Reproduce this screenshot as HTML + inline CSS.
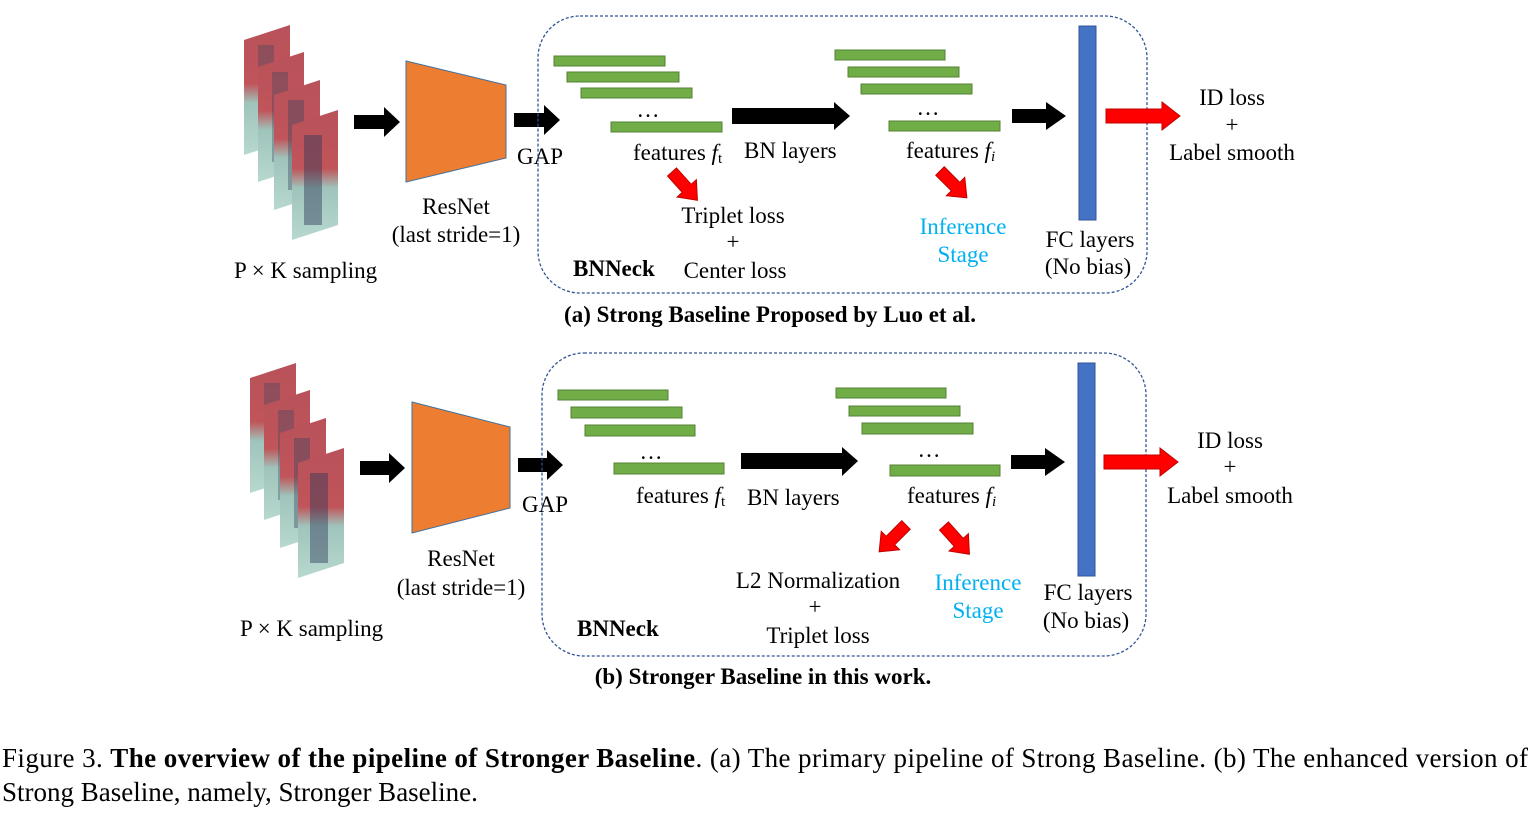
<!DOCTYPE html>
<html><head><meta charset="utf-8"><style>
body{margin:0;background:#fff;}
svg text{font-family:"Liberation Serif",serif;font-size:23px;fill:#000;}
.c{text-anchor:middle}
.blue{fill:#00B0F0}
.b{font-weight:bold}
</style></head><body>
<svg width="1536" height="813" viewBox="0 0 1536 813" xmlns="http://www.w3.org/2000/svg">
<defs>
<linearGradient id="im" x1="0" y1="0" x2="0" y2="1">
<stop offset="0" stop-color="#b8525a"/><stop offset="0.45" stop-color="#c0545a"/><stop offset="0.6" stop-color="#9fc4bb"/><stop offset="1" stop-color="#b7d8cf"/>
</linearGradient>
<g id="stack">
<polygon points="0,15 46,0 46,115 0,130" fill="url(#im)"/>
<rect x="14" y="20" width="16" height="90" fill="#3a4560" opacity="0.35"/>
<polygon points="14,42 60,27 60,142 14,157" fill="url(#im)"/>
<rect x="28" y="47" width="16" height="90" fill="#3a4560" opacity="0.35"/>
<polygon points="30,70 76,55 76,170 30,185" fill="url(#im)"/>
<rect x="44" y="75" width="16" height="90" fill="#3a4560" opacity="0.4"/>
<polygon points="48,100 94,85 94,200 48,215" fill="url(#im)"/>
<rect x="60" y="110" width="18" height="90" fill="#2f3a58" opacity="0.45"/>
</g>
<g id="red"><polygon points="0,-6 22,-6 22,-13 38,0 22,13 22,6 0,6" fill="#FF0000" stroke="#C00000" stroke-width="1"/></g>
</defs>

<!-- Panel a -->
<use href="#stack" x="244" y="25"/>
<polygon points="354,115 384,115 384,107 400,122 384,137 384,129 354,129" fill="#000"/>
<polygon points="406,61 506,85 506,158 406,182" fill="#ED7D31" stroke="#41719C" stroke-width="1"/>
<text class="c" x="456" y="214">ResNet</text>
<text class="c" x="456" y="242">(last stride=1)</text>
<text x="234" y="278">P × K sampling</text>
<polygon points="514,113 544,113 544,105 560,120 544,135 544,127 514,127" fill="#000"/>
<text x="517" y="164">GAP</text>
<rect x="538" y="16" width="609" height="277" rx="42" fill="none" stroke="#2F5597" stroke-width="1.3" stroke-dasharray="3,2"/>
<g fill="#70AD47" stroke="#538135" stroke-width="1">
<rect x="554" y="56" width="111" height="10"/><rect x="567" y="72" width="112" height="10"/><rect x="581" y="88" width="111" height="10"/><rect x="611" y="122" width="111" height="10"/>
<rect x="835" y="50" width="110" height="10"/><rect x="848" y="67" width="111" height="10"/><rect x="861" y="84" width="111" height="10"/><rect x="889" y="121" width="111" height="10"/>
</g>
<text class="c" x="648" y="117">…</text>
<text class="c" x="928" y="115">…</text>
<text x="633" y="160">features <tspan font-style="italic">f</tspan><tspan font-size="15" dy="3">t</tspan></text>
<polygon points="732,108 834,108 834,102 850,116 834,130 834,124 732,124" fill="#000"/>
<text x="744" y="158">BN layers</text>
<text x="906" y="158">features <tspan font-style="italic">f</tspan><tspan font-size="15" dy="3" font-style="italic">i</tspan></text>
<use href="#red" transform="translate(672,172) rotate(48)"/>
<use href="#red" transform="translate(940,171) rotate(45)"/>
<text class="c" x="733" y="223">Triplet loss</text>
<text class="c" x="733" y="249">+</text>
<text class="c" x="735" y="278">Center loss</text>
<text class="b" x="573" y="276">BNNeck</text>
<text class="c blue" x="963" y="234">Inference</text>
<text class="c blue" x="963" y="262">Stage</text>
<polygon points="1012,109 1046,109 1046,102 1066,116 1046,130 1046,123 1012,123" fill="#000"/>
<rect x="1079" y="26" width="17" height="194" fill="#4472C4" stroke="#2F5597" stroke-width="1"/>
<text class="c" x="1090" y="247">FC layers</text>
<text class="c" x="1088" y="274">(No bias)</text>
<polygon points="1106,109 1162,109 1162,102 1180,116 1162,130 1162,123 1106,123" fill="#FF0000" stroke="#C00000" stroke-width="1"/>
<text class="c" x="1232" y="105">ID loss</text>
<text class="c" x="1232" y="132">+</text>
<text class="c" x="1232" y="160">Label smooth</text>
<text class="c b" x="770" y="322">(a) Strong Baseline Proposed by Luo et al.</text>

<!-- Panel b -->
<use href="#stack" x="250" y="363"/>
<polygon points="360,461 389,461 389,453 405,468 389,483 389,475 360,475" fill="#000"/>
<polygon points="412,402 510,427 510,508 412,533" fill="#ED7D31" stroke="#41719C" stroke-width="1"/>
<text class="c" x="461" y="566">ResNet</text>
<text class="c" x="461" y="595">(last stride=1)</text>
<text x="240" y="636">P × K sampling</text>
<polygon points="518,458 547,458 547,450 563,465 547,480 547,472 518,472" fill="#000"/>
<text x="522" y="512">GAP</text>
<rect x="542" y="353" width="604" height="303" rx="42" fill="none" stroke="#2F5597" stroke-width="1.3" stroke-dasharray="3,2"/>
<g fill="#70AD47" stroke="#538135" stroke-width="1">
<rect x="558" y="390" width="110" height="10"/><rect x="571" y="407" width="111" height="11"/><rect x="585" y="425" width="110" height="11"/><rect x="614" y="463" width="110" height="11"/>
<rect x="836" y="388" width="110" height="10"/><rect x="849" y="406" width="111" height="10"/><rect x="862" y="423" width="111" height="11"/><rect x="890" y="465" width="110" height="11"/>
</g>
<text class="c" x="651" y="459">…</text>
<text class="c" x="929" y="457">…</text>
<text x="636" y="503">features <tspan font-style="italic">f</tspan><tspan font-size="15" dy="3">t</tspan></text>
<polygon points="741,453 842,453 842,447 858,461 842,476 842,469 741,469" fill="#000"/>
<text x="747" y="505">BN layers</text>
<text x="907" y="503">features <tspan font-style="italic">f</tspan><tspan font-size="15" dy="3" font-style="italic">i</tspan></text>
<use href="#red" transform="translate(906,525) rotate(135)"/>
<use href="#red" transform="translate(944,526) rotate(48)"/>
<text class="c" x="818" y="588">L2 Normalization</text>
<text class="c" x="815" y="614">+</text>
<text class="c" x="818" y="643">Triplet loss</text>
<text class="c blue" x="978" y="590">Inference</text>
<text class="c blue" x="978" y="618">Stage</text>
<text class="b" x="577" y="636">BNNeck</text>
<polygon points="1011,455 1045,455 1045,448 1065,462 1045,476 1045,469 1011,469" fill="#000"/>
<rect x="1078" y="363" width="17" height="213" fill="#4472C4" stroke="#2F5597" stroke-width="1"/>
<text class="c" x="1088" y="600">FC layers</text>
<text class="c" x="1086" y="628">(No bias)</text>
<polygon points="1104,455 1160,455 1160,448 1178,462 1160,476 1160,469 1104,469" fill="#FF0000" stroke="#C00000" stroke-width="1"/>
<text class="c" x="1230" y="448">ID loss</text>
<text class="c" x="1230" y="474">+</text>
<text class="c" x="1230" y="503">Label smooth</text>
<text class="c b" x="763" y="684">(b) Stronger Baseline in this work.</text>

<!-- Caption -->
<text x="2" y="767" style="font-size:27px" textLength="1526" lengthAdjust="spacing">Figure 3. <tspan font-weight="bold">The overview of the pipeline of Stronger Baseline</tspan>. (a) The primary pipeline of Strong Baseline. (b) The enhanced version of</text>
<text x="2" y="801" style="font-size:27px">Strong Baseline, namely, Stronger Baseline.</text>
</svg>
</body></html>
